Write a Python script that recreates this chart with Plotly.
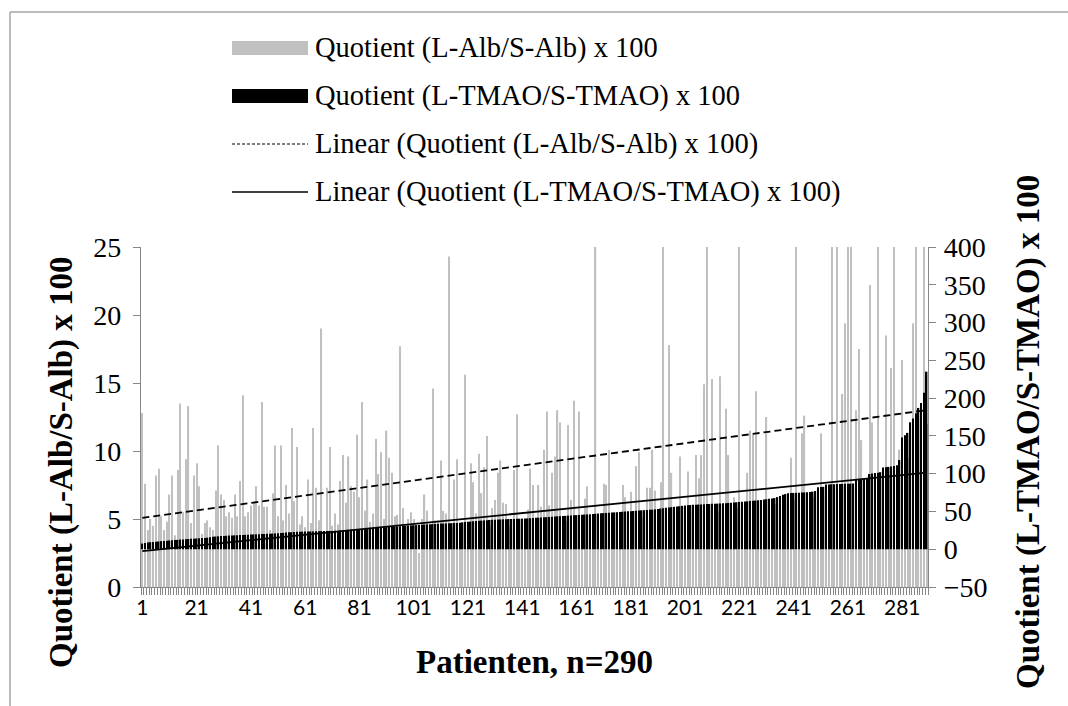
import numpy as np
import plotly.graph_objects as go

# ---------------- data ----------------
patients = list(range(1, 291))

alb_quotient = [
    12.8, 7.6, 4.2, 5.0, 4.5, 8.2, 8.7, 5.2, 4.2, 4.8,
    6.8, 8.2, 3.8, 8.6, 13.5, 5.5, 9.4, 13.3, 4.7, 8.2,
    9.1, 7.4, 3.9, 4.7, 4.9, 4.4, 4.2, 7.1, 10.4, 6.8,
    6.4, 5.2, 5.5, 5.1, 6.8, 5.2, 7.8, 14.1, 5.2, 5.5,
    6.0, 6.2, 7.4, 6.0, 13.6, 5.9, 5.9, 4.2, 6.9, 10.4,
    5.2, 10.4, 4.9, 7.5, 5.4, 11.7, 6.3, 10.3, 4.6, 5.2,
    4.4, 7.9, 4.7, 11.7, 7.3, 4.9, 19.0, 4.0, 7.3, 10.3,
    4.5, 5.4, 4.6, 7.8, 9.7, 6.2, 9.6, 7.4, 7.0, 11.2,
    6.6, 13.6, 5.6, 7.9, 4.8, 5.4, 10.9, 8.3, 9.9, 5.0,
    11.5, 9.5, 8.4, 5.2, 5.3, 17.7, 5.8, 4.5, 5.0, 5.5,
    5.0, 4.1, 2.5, 5.0, 6.8, 5.6, 4.3, 14.6, 4.9, 4.9,
    9.3, 5.6, 5.4, 24.3, 4.4, 7.9, 9.4, 4.3, 4.5, 15.6,
    4.5, 9.1, 7.7, 5.4, 9.8, 6.9, 8.8, 11.1, 4.5, 5.8,
    6.4, 8.4, 9.3, 6.2, 6.1, 4.5, 4.4, 8.6, 12.7, 4.6,
    4.4, 4.7, 5.7, 8.7, 7.5, 4.7, 7.5, 5.9, 10.1, 12.9,
    6.0, 8.4, 9.6, 13.0, 12.1, 4.6, 4.8, 11.9, 6.4, 13.7,
    4.8, 12.9, 4.7, 6.5, 7.4, 4.8, 4.7, 26.0, 4.8, 4.7,
    7.6, 7.5, 10.1, 4.9, 4.8, 5.0, 4.9, 7.5, 6.6, 5.0,
    7.0, 5.0, 8.9, 9.9, 5.1, 5.1, 7.3, 7.3, 10.1, 7.1,
    5.2, 7.7, 26.0, 5.3, 17.8, 8.4, 5.3, 5.4, 9.6, 5.4,
    5.5, 8.5, 5.5, 5.5, 9.7, 8.0, 9.7, 14.9, 26.0, 5.6,
    15.3, 5.6, 5.6, 15.5, 5.7, 13.1, 9.7, 5.7, 6.6, 5.8,
    26.0, 5.8, 5.8, 8.4, 11.5, 11.2, 14.4, 5.9, 5.9, 6.0,
    12.5, 6.0, 6.0, 6.1, 6.1, 6.2, 6.2, 6.3, 6.3, 9.5,
    6.4, 34.5, 6.4, 11.3, 12.6, 6.5, 6.5, 6.6, 6.6, 6.7,
    11.3, 6.8, 6.9, 7.0, 40.5, 7.0, 35.5, 7.1, 14.2, 19.4,
    37.5, 33.5, 7.2, 13.0, 17.5, 10.8, 7.3, 7.4, 22.2, 12.1,
    7.6, 41.5, 7.8, 8.0, 18.5, 8.2, 16.1, 36.5, 8.5, 10.1,
    16.7, 9.0, 9.5, 10.0, 19.4, 38.5, 10.5, 11.0, 34.5, 12.0,
]

tmao_quotient = [
    7.5, 8.4, 9.0, 9.4, 9.7, 10.0, 10.3, 10.7, 11.0, 11.3,
    11.6, 11.9, 12.1, 12.4, 12.8, 13.0, 13.2, 13.5, 13.7, 14.0,
    14.2, 14.5, 14.7, 15.0, 15.3, 15.8, 16.4, 16.8, 17.1, 17.4,
    17.6, 17.8, 18.0, 18.2, 18.4, 18.5, 18.7, 18.9, 19.1, 19.3,
    19.5, 19.6, 19.8, 19.9, 20.1, 20.2, 20.4, 20.5, 20.7, 20.9,
    21.1, 21.4, 21.7, 22.0, 22.3, 22.6, 22.8, 23.0, 23.1, 23.2,
    23.3, 23.4, 23.5, 23.6, 23.7, 23.8, 23.9, 24.0, 24.1, 24.2,
    24.2, 24.4, 24.6, 24.9, 25.1, 25.4, 25.6, 25.9, 26.1, 26.3,
    26.6, 26.9, 27.3, 27.5, 27.8, 28.0, 28.3, 28.5, 28.8, 29.0,
    29.2, 29.4, 29.6, 29.8, 30.0, 30.4, 30.7, 31.0, 31.2, 31.5,
    31.7, 31.9, 32.1, 32.4, 32.7, 32.9, 33.0, 33.2, 33.5, 33.7,
    33.9, 34.0, 34.2, 34.4, 34.5, 34.7, 34.8, 35.2, 35.6, 36.0,
    36.3, 36.6, 37.0, 37.3, 37.6, 37.9, 38.2, 38.5, 38.8, 39.0,
    39.1, 39.3, 39.4, 39.6, 39.7, 39.9, 40.0, 40.1, 40.3, 40.4,
    40.5, 40.6, 40.8, 41.0, 41.3, 41.5, 41.8, 42.0, 42.2, 42.4,
    42.7, 43.0, 43.3, 43.6, 43.8, 44.0, 44.2, 44.5, 44.7, 45.0,
    45.2, 45.4, 45.7, 45.9, 46.1, 46.3, 46.6, 46.9, 47.2, 47.5,
    47.8, 48.0, 48.3, 48.6, 48.8, 49.0, 49.3, 49.6, 49.9, 50.1,
    50.4, 50.6, 50.9, 51.2, 51.5, 51.7, 51.9, 52.1, 52.4, 52.8,
    53.3, 53.8, 54.3, 54.8, 55.3, 55.7, 56.1, 56.5, 56.9, 57.4,
    58.0, 58.3, 58.5, 58.7, 58.9, 59.1, 59.3, 59.5, 59.7, 59.9,
    60.1, 60.2, 60.4, 60.6, 60.8, 61.0, 61.3, 61.6, 61.9, 62.2,
    62.5, 62.8, 63.1, 63.4, 63.7, 64.0, 64.4, 64.8, 65.2, 65.7,
    66.2, 66.7, 67.2, 67.7, 69.0, 70.5, 72.0, 73.0, 74.0, 74.3,
    74.5, 74.6, 74.8, 75.0, 75.2, 75.5, 75.8, 76.2, 77.0, 82.0,
    82.3, 82.6, 85.5, 85.8, 86.0, 86.1, 86.2, 86.3, 86.4, 86.5,
    86.6, 86.8, 87.0, 92.0, 92.4, 92.8, 93.2, 93.6, 99.5, 100.2,
    100.8, 101.3, 102.0, 108.0, 108.5, 109.0, 109.5, 110.0, 111.0, 118.0,
    148.0, 151.0, 154.0, 168.0, 173.0, 180.0, 187.0, 193.5, 207.0, 235.0,
]

x_tick_values = list(range(1, 291, 20))
x_tick_labels = [str(v) for v in x_tick_values]
left_axis_range = [0, 25]
right_axis_range = [-50, 400]
left_axis_ticks = [0, 5, 10, 15, 20, 25]
right_axis_ticks = [-50, 0, 50, 100, 150, 200, 250, 300, 350, 400]

series_names = [
    "Quotient (L-Alb/S-Alb) x 100",
    "Quotient (L-TMAO/S-TMAO) x 100",
    "Linear (Quotient (L-Alb/S-Alb) x 100)",
    "Linear (Quotient (L-TMAO/S-TMAO) x 100)",
]
left_title = "Quotient (L-Alb/S-Alb) x 100"
right_title = "Quotient (L-TMAO/S-TMAO) x 100"
x_title = "Patienten, n=290"

# ---------------- linear trend lines (least squares, like Excel) ----------------
xa = np.array(patients, dtype=float)
k_alb, d_alb = np.polyfit(xa, np.array(alb_quotient), 1)
k_tm, d_tm = np.polyfit(xa, np.array(tmao_quotient), 1)
trend_x = [patients[0], patients[-1]]
trend_alb = [k_alb * v + d_alb for v in trend_x]
trend_tmao = [k_tm * v + d_tm for v in trend_x]


# the Alb trend is drawn on the top (secondary) layer so it sits above all bars:
# map left-axis values to the right axis through the two axis ranges
def left_to_right(v):
    f = (v - left_axis_range[0]) / (left_axis_range[1] - left_axis_range[0])
    return right_axis_range[0] + f * (right_axis_range[1] - right_axis_range[0])


trend_alb_on_y2 = [left_to_right(v) for v in trend_alb]

# ---------------- geometry helpers (pixel -> paper) ----------------
W, H = 1068, 706
L, R, T, B = 141, 928, 247, 587


def px(x):
    return (x - L) / (R - L)


def py(y):
    return (B - y) / (B - T)


SERIF = "Liberation Serif, Times New Roman, serif"
AXIS_GREY = "#868686"

fig = go.Figure()
fig.add_trace(go.Bar(x=patients, y=alb_quotient, yaxis="y", width=0.45,
                     marker=dict(color="#c0c0c0", line=dict(width=0)),
                     name=series_names[0], showlegend=False))
fig.add_trace(go.Bar(x=patients, y=tmao_quotient, yaxis="y2", width=0.55,
                     marker=dict(color="black", line=dict(width=0)),
                     name=series_names[1], showlegend=False))
fig.add_trace(go.Scatter(x=trend_x, y=trend_alb_on_y2, yaxis="y2", mode="lines",
                         line=dict(color="black", width=1.8, dash="7px,4px"),
                         name=series_names[2], showlegend=False))
fig.add_trace(go.Scatter(x=trend_x, y=trend_tmao, yaxis="y2", mode="lines",
                         line=dict(color="black", width=1.8),
                         name=series_names[3], showlegend=False))

axis_common = dict(showgrid=False, zeroline=False, showline=True,
                   linecolor=AXIS_GREY, linewidth=1.3, ticks="outside",
                   ticklen=7, tickcolor=AXIS_GREY, tickwidth=1.3,
                   tickfont=dict(family=SERIF, size=28, color="black"))

fig.update_layout(
    width=W, height=H, autosize=False,
    margin=dict(l=L, r=W - R, t=T, b=H - B, pad=0),
    paper_bgcolor="white", plot_bgcolor="white",
    barmode="overlay", showlegend=False,
    xaxis=dict(range=[0.5, 290.5], tickmode="array", tickvals=x_tick_values,
               ticktext=x_tick_labels, ticks="", showgrid=False, zeroline=False,
               showline=True, linecolor=AXIS_GREY, linewidth=1.3,
               ticklabelstandoff=2,
               tickfont=dict(family="Lato, Open Sans, sans-serif", size=21, color="black"),
               minor=dict(tickmode="linear", tick0=0.5, dtick=1, ticks="outside",
                          ticklen=7, tickcolor=AXIS_GREY, tickwidth=1, showgrid=False)),
    yaxis=dict(range=left_axis_range, tickmode="array", tickvals=left_axis_ticks,
               ticklabelstandoff=6, **axis_common),
    yaxis2=dict(range=right_axis_range, tickmode="array", tickvals=right_axis_ticks,
                overlaying="y", side="right", ticklabelstandoff=2, **axis_common),
)

# chart-area border (top and left edges visible)
fig.add_shape(type="line", xref="paper", yref="paper", x0=px(10), x1=px(1068),
              y0=py(12), y1=py(12), line=dict(color="#a6a6a6", width=1.5))
fig.add_shape(type="line", xref="paper", yref="paper", x0=px(10), x1=px(10),
              y0=py(12), y1=py(706), line=dict(color="#a6a6a6", width=1.5))

# legend
rows_y = [48, 96, 144, 192]
sw_x0, sw_x1, text_x = 232, 308, 313
fig.add_shape(type="rect", xref="paper", yref="paper", x0=px(sw_x0), x1=px(sw_x1),
              y0=py(rows_y[0] - 7), y1=py(rows_y[0] + 7),
              fillcolor="#c0c0c0", line=dict(width=0))
fig.add_shape(type="rect", xref="paper", yref="paper", x0=px(sw_x0), x1=px(sw_x1),
              y0=py(rows_y[1] - 7), y1=py(rows_y[1] + 7),
              fillcolor="black", line=dict(width=0))
fig.add_shape(type="line", xref="paper", yref="paper", x0=px(sw_x0), x1=px(sw_x1),
              y0=py(rows_y[2]), y1=py(rows_y[2]),
              line=dict(color="black", width=1, dash="3px,2px"))
fig.add_shape(type="line", xref="paper", yref="paper", x0=px(sw_x0), x1=px(sw_x1),
              y0=py(rows_y[3]), y1=py(rows_y[3]),
              line=dict(color="black", width=1.5))
for name, yy in zip(series_names, rows_y):
    fig.add_annotation(text=name, xref="paper", yref="paper", x=px(text_x), y=py(yy),
                       xanchor="left", yanchor="middle", showarrow=False,
                       font=dict(family=SERIF, size=28.5, color="black"))

# axis titles
fig.add_annotation(text="<b>" + left_title + "</b>", xref="paper", yref="paper",
                   x=px(61), y=py(462), textangle=-90, showarrow=False,
                   xanchor="center", yanchor="middle",
                   font=dict(family=SERIF, size=33, color="black"))
fig.add_annotation(text="<b>" + right_title + "</b>", xref="paper", yref="paper",
                   x=px(1028), y=py(432), textangle=-90, showarrow=False,
                   xanchor="center", yanchor="middle",
                   font=dict(family=SERIF, size=33, color="black"))
fig.add_annotation(text="<b>" + x_title + "</b>", xref="paper", yref="paper",
                   x=px(534), y=py(662), showarrow=False,
                   xanchor="center", yanchor="middle",
                   font=dict(family=SERIF, size=33, color="black"))

fig.write_html("out.html")
